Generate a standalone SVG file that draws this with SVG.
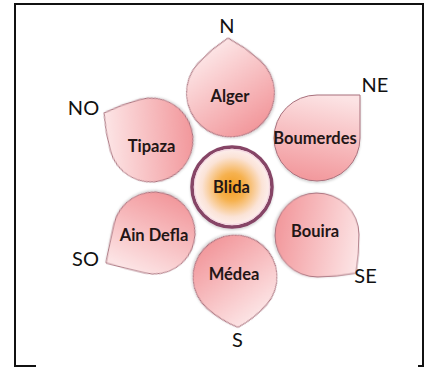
<svg xmlns="http://www.w3.org/2000/svg" width="438" height="376" viewBox="0 0 438 376">
<defs>
<linearGradient id="petalGrad" x1="0.6" y1="0" x2="0.4" y2="1">
<stop offset="0" stop-color="#fce3e4"/>
<stop offset="1" stop-color="#f2979b"/>
</linearGradient>
<radialGradient id="centerGrad" cx="0.5" cy="0.5" r="0.5">
<stop offset="0" stop-color="#f39c1e"/>
<stop offset="0.35" stop-color="#f6b250"/>
<stop offset="0.75" stop-color="#fbe3d6"/>
<stop offset="1" stop-color="#fdf1f3"/>
</radialGradient>
<filter id="shadow" x="-20%" y="-20%" width="140%" height="140%">
<feDropShadow dx="0" dy="1.5" stdDeviation="1.2" flood-color="#000" flood-opacity="0.18"/>
</filter>
</defs>
<style>
.petal { fill: url(#petalGrad); stroke: #a8707c; stroke-width: 1; filter: url(#shadow); }
.lbl { font-family: Lato, "Open Sans", "Liberation Sans", sans-serif; font-weight: bold; font-size: 16.5px; fill: #231616; text-anchor: middle; }
.dir { font-family: Lato, "Open Sans", "Liberation Sans", sans-serif; font-size: 20px; fill: #111; text-anchor: middle; }
</style>
<rect width="438" height="376" fill="#fff"/>
<g id="frame">
<path d="M36 366 H15 V4 H423 V366 H418" fill="none" stroke="#111" stroke-width="2"/>
</g>
<g id="connectors"></g>
<g id="alger">
<path class="petal" transform="translate(230.5,93) rotate(-47.6)" d="M-44,0 A44,44 0 0 1 0,-44 Q19.47,-44 38.94,-38.94 Q44,-19.47 44,0 A44,44 0 0 1 0,44 A44,44 0 0 1 -44,0Z"/>
<text class="lbl" x="230" y="102">Alger</text>
</g>
<g id="boumerdes">
<path class="petal" transform="translate(317,138)" d="M-43,0 A43,43 0 0 1 0,-43 Q21.5,-43 43,-43 Q43,-21.5 43,0 A43,43 0 0 1 0,43 A43,43 0 0 1 -43,0Z"/>
<text class="lbl" x="315" y="143.5">Boumerdes</text>
</g>
<g id="tipaza">
<path class="petal" transform="translate(151,140) rotate(-105.1)" d="M-42,0 A42,42 0 0 1 0,-42 Q19.17,-42 38.35,-38.35 Q42,-19.17 42,0 A42,42 0 0 1 0,42 A42,42 0 0 1 -42,0Z"/>
<text class="lbl" x="151.5" y="151.5">Tipaza</text>
</g>
<g id="aindefla">
<path class="petal" transform="translate(154,233) rotate(193)" d="M-41,0 A41,41 0 0 1 0,-41 Q20.01,-41 40.02,-40.02 Q41,-20.01 41,0 A41,41 0 0 1 0,41 A41,41 0 0 1 -41,0Z"/>
<text class="lbl" x="154" y="241">Ain Defla</text>
</g>
<g id="bouira">
<path class="petal" transform="translate(317,235) rotate(89.3)" d="M-42,0 A42,42 0 0 1 0,-42 Q19.28,-42 38.56,-38.56 Q42,-19.28 42,0 A42,42 0 0 1 0,42 A42,42 0 0 1 -42,0Z"/>
<text class="lbl" x="315" y="236.5">Bouira</text>
</g>
<g id="medea">
<path class="petal" transform="translate(235,277) rotate(131.6)" d="M-42,0 A42,42 0 0 1 0,-42 Q17.85,-42 35.7,-35.7 Q42,-17.85 42,0 A42,42 0 0 1 0,42 A42,42 0 0 1 -42,0Z"/>
<text class="lbl" x="234" y="280">Médea</text>
</g>
<g id="blida">
<circle cx="232" cy="187" r="40" fill="url(#centerGrad)" stroke="#864466" stroke-width="3.5" filter="url(#shadow)"/>
<circle cx="232" cy="187" r="37.6" fill="none" stroke="#f3d6df" stroke-width="1.2"/>
<text class="lbl" x="231.5" y="193.3">Blida</text>
</g>
<g id="directions">
<text class="dir" x="227" y="33.3">N</text>
<text class="dir" x="375" y="91.7">NE</text>
<text class="dir" x="83.5" y="115">NO</text>
<text class="dir" x="85.5" y="265.7">SO</text>
<text class="dir" x="365.5" y="282.7">SE</text>
<text class="dir" x="237.5" y="346.7">S</text>
</g>
</svg>
